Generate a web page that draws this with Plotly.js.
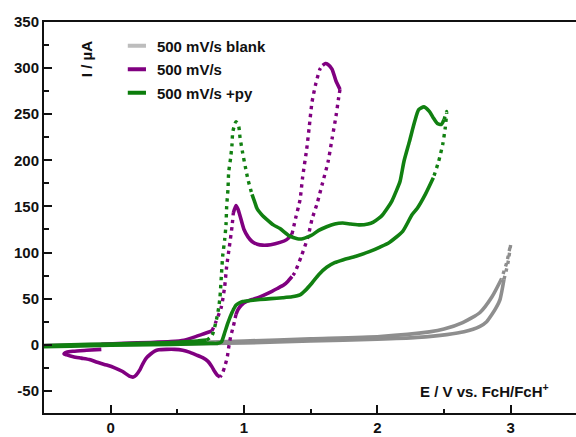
<!DOCTYPE html>
<html>
<head>
<meta charset="utf-8">
<script src="https://cdn.plot.ly/plotly-3.0.1.min.js"></script>
<style>html,body{margin:0;padding:0;background:#fff;}#chart{width:576px;height:437px;}</style>
</head>
<body>
<div id="chart"></div>
<script>
// ---- data (E / V vs FcH/FcH+, I / µA) ----
const seriesNames = ["500 mV/s blank", "500 mV/s", "500 mV/s +py"];

const blankE = [-0.5, 0, 0.5, 1.0, 1.5, 2.0, 2.3, 2.52, 2.65, 2.77, 2.82, 2.86, 2.89, 2.92, 2.95, 2.98, 3.0,
  2.97, 2.93, 2.86, 2.77, 2.64, 2.5, 2.39, 2.02, 1.5, 1.0, 0.5, 0, -0.5];
const blankI = [-1, 0, 1, 2, 4, 6, 8, 11, 14, 20, 25, 33, 40, 49, 71, 89, 109,
  89, 71, 52, 35, 24, 17, 14, 9, 6.5, 4, 2, 0.5, -0.5];

const pyFreeE = [-0.07, 0.1, 0.3, 0.45, 0.55, 0.62, 0.68, 0.72, 0.76, 0.79, 0.83, 0.855, 0.87, 0.89, 0.91, 0.92, 0.94,
  0.955, 0.97, 1.0, 1.03, 1.06, 1.1, 1.14, 1.2, 1.27, 1.32, 1.36, 1.39, 1.42, 1.44, 1.47, 1.49, 1.51, 1.54, 1.57,
  1.59, 1.61, 1.63, 1.66, 1.69, 1.72, 1.71, 1.69, 1.66, 1.63, 1.59, 1.55, 1.51, 1.48, 1.43, 1.38, 1.36, 1.33, 1.30,
  1.25, 1.21, 1.12, 1.06, 1.02, 0.98, 0.955, 0.94, 0.92, 0.90, 0.885, 0.875, 0.855, 0.835, 0.82, 0.80, 0.78, 0.76,
  0.73, 0.69, 0.64, 0.59, 0.54, 0.48, 0.42, 0.36, 0.33, 0.30, 0.27, 0.24, 0.22, 0.19, 0.17, 0.14, 0.09, 0.03, -0.03,
  -0.1, -0.16, -0.22, -0.28, -0.33, -0.35, -0.33, -0.28, -0.18, -0.07];
const pyFreeI = [0.5, 1.5, 2.5, 3.5, 5, 8, 11, 13, 15, 25, 41, 63, 85, 106, 128, 143, 151,
  147, 140, 125, 117, 112, 109, 108, 108.5, 111, 114, 120, 139, 157, 182, 212, 237, 263, 284, 299,
  303, 305, 304, 299, 286, 277, 268, 248, 223, 198, 176, 154, 136, 117, 96, 78, 74, 69, 65,
  61, 58, 52, 49, 47, 43, 38, 33, 20, 9, -3, -13, -24, -32, -35, -33, -29, -24,
  -18, -14, -11, -8, -6, -5, -5, -5.5, -7, -10, -14, -21, -27, -33, -35, -34, -29, -25, -22,
  -19, -16, -14.5, -13, -11, -10, -8, -7, -6, -5];

const pyE = [-0.5, -0.3, 0, 0.3, 0.5, 0.65, 0.72, 0.76, 0.79, 0.81, 0.82, 0.83, 0.84, 0.855, 0.865, 0.87, 0.88, 0.885,
  0.90, 0.91, 0.915, 0.93, 0.94, 0.96, 0.97, 0.99, 1.01, 1.03, 1.06, 1.08, 1.10, 1.14, 1.17, 1.22, 1.27, 1.34, 1.40,
  1.44, 1.48, 1.51, 1.56, 1.62, 1.68, 1.74, 1.80, 1.87, 1.93, 1.97, 2.01, 2.04, 2.08, 2.11, 2.14, 2.17, 2.20, 2.24,
  2.28, 2.31, 2.35, 2.39, 2.42, 2.45, 2.48, 2.50, 2.52, 2.51, 2.49, 2.46, 2.42, 2.36, 2.30, 2.26, 2.19, 2.09, 2.02,
  1.94, 1.84, 1.74, 1.68, 1.62, 1.56, 1.51, 1.46, 1.42, 1.36, 1.29, 1.2, 1.12, 1.05, 0.99, 0.96, 0.94, 0.92, 0.91,
  0.88, 0.855, 0.83, 0.80, 0.75, 0.6, 0.3, 0, -0.3, -0.5];
const pyI = [-1, 0, 0.8, 1.8, 2.8, 4, 5, 10, 25, 40, 52, 74, 96, 114, 130, 150, 169, 187,
  203, 217, 230, 239, 242, 237, 225, 208, 193, 179, 163, 155, 147, 140, 136, 130, 126, 118, 115,
  115, 117, 119, 124, 128, 131, 132, 131, 130, 131, 133, 137, 141, 149, 156, 166, 177, 199, 220,
  242, 255, 258, 253, 246, 240, 239, 244, 253, 236, 217, 199, 181, 163, 148, 141, 123, 111, 106,
  101, 96, 92, 89, 84, 76, 67, 59, 54, 52, 51, 50, 49, 48, 47, 45, 43, 38, 35,
  24, 13, 3, 1.5, 1.5, 1, 0, -0.5, -1.5, -2];

// ---- styling ----
const colors = ["#8e8e8e", "#800080", "#118011"];
const legendColors = ["#bdbdbd", "#800080", "#0b7d0b"];
// point-index ranges drawn as sparse (fast sweep) dotted stretches
const dottedRanges = [
  [[14, 18]],
  [[8, 15], [27, 36], [41, 52], [62, 69]],
  [[6, 28], [63, 68]]
];

function splitPath(E, I, ranges) {
  const isDot = k => ranges.some(r => k >= r[0] && k + 1 <= r[1]);
  const solid = {x: [], y: []}, dot = {x: [], y: []};
  let last = null;
  for (let k = 0; k < E.length - 1; k++) {
    const d = isDot(k);
    const t = d ? dot : solid;
    if (last !== d) {
      if (t.x.length) { t.x.push(null); t.y.push(null); }
      t.x.push(E[k]); t.y.push(I[k]);
    }
    t.x.push(E[k + 1]); t.y.push(I[k + 1]);
    last = d;
  }
  return {solid, dot};
}

const allE = [blankE, pyFreeE, pyE];
const allI = [blankI, pyFreeI, pyI];
const traces = [];
for (let s = 0; s < 3; s++) {
  const p = splitPath(allE[s], allI[s], dottedRanges[s]);
  traces.push({x: p.solid.x, y: p.solid.y, mode: "lines", type: "scatter", showlegend: false,
    connectgaps: false, line: {color: colors[s], width: 3.6, shape: "spline", smoothing: 0.6}, hoverinfo: "skip"});
  traces.push({x: p.dot.x, y: p.dot.y, mode: "lines", type: "scatter", showlegend: false,
    connectgaps: false, line: {color: colors[s], width: 3.4, dash: "3.4px,4.5px", shape: "spline", smoothing: 0.6},
    hoverinfo: "skip"});
}
for (let s = 0; s < 3; s++) {
  traces.push({x: [null], y: [null], mode: "markers", type: "scatter", name: seriesNames[s],
    legendgroup: "g" + s,
    marker: {symbol: "line-ew-open", size: 13, color: legendColors[s], line: {color: legendColors[s], width: 4}}});
}

const fontFam = "Liberation Sans, Arial, sans-serif";
const layout = {
  width: 576, height: 437,
  margin: {l: 44, r: 0, t: 22, b: 24},
  paper_bgcolor: "#ffffff", plot_bgcolor: "#ffffff",
  font: {family: fontFam, size: 15, color: "#111111", weight: "bold"},
  showlegend: true,
  legend: {x: 0.137, y: 0.981, xanchor: "left", yanchor: "top", bgcolor: "rgba(0,0,0,0)",
    font: {family: fontFam, size: 15, color: "#111111", weight: "bold"},
    traceorder: "grouped", tracegroupgap: 1, itemsizing: "trace"},
  xaxis: {range: [-0.5, 3.49], tickvals: [0, 1, 2, 3], ticktext: ["0", "1", "2", "3"],
    ticks: "inside", ticklen: 8, tickwidth: 2, tickcolor: "#111",
    minor: {tickvals: [0.5, 1.5, 2.5], ticks: "inside", ticklen: 4, tickwidth: 2, tickcolor: "#111"},
    showline: true, linewidth: 2, linecolor: "#111", mirror: true,
    showgrid: false, zeroline: false,
    tickfont: {family: fontFam, size: 15, color: "#111", weight: "bold"}},
  yaxis: {range: [-74, 350], tickvals: [-50, 0, 50, 100, 150, 200, 250, 300, 350],
    ticktext: ["-50", "0", "50", "100", "150", "200", "250", "300", "350"],
    ticks: "inside", ticklen: 8, tickwidth: 2, tickcolor: "#111",
    minor: {dtick: 25, ticks: "inside", ticklen: 5, tickwidth: 2, tickcolor: "#111"},
    showline: true, linewidth: 2, linecolor: "#111", mirror: false,
    showgrid: false, zeroline: false,
    tickfont: {family: fontFam, size: 15, color: "#111", weight: "bold"}},
  annotations: [
    {text: "I / µA", xref: "paper", yref: "paper", x: 0.079, y: 0.905, textangle: -90,
      showarrow: false, xanchor: "center", yanchor: "middle",
      font: {family: fontFam, size: 15, color: "#111", weight: "bold"}},
    {text: "E / V vs. FcH/FcH<sup>+</sup>", xref: "paper", yref: "paper", x: 0.703, y: 0.058,
      showarrow: false, xanchor: "left", yanchor: "middle",
      font: {family: fontFam, size: 15, color: "#111", weight: "bold"}}
  ]
};

Plotly.newPlot("chart", traces, layout, {staticPlot: true, displayModeBar: false});
</script>
</body>
</html>
